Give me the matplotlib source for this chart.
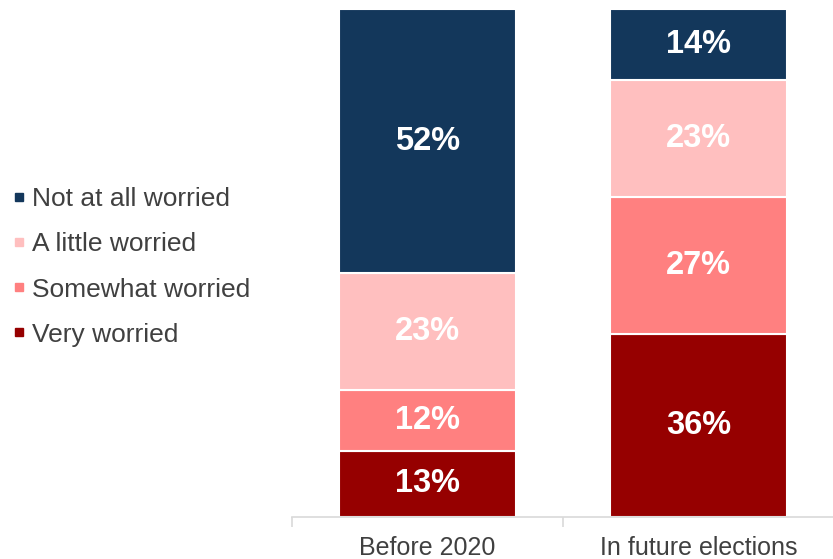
import matplotlib
matplotlib.use("Agg")
import matplotlib.pyplot as plt
from matplotlib.lines import Line2D

plt.rcParams['font.family'] = ['Liberation Sans', 'DejaVu Sans']

categories = ["Before 2020", "In future elections"]
series_names = ["Very worried", "Somewhat worried", "A little worried", "Not at all worried"]
very = [13, 36]
somewhat = [12, 27]
little = [23, 23]
not_at_all = [52, 14]
values = [very, somewhat, little, not_at_all]
colors = ["#960000", "#FF8080", "#FFBFBF", "#13375B"]

fig = plt.figure(figsize=(8.33, 5.59), dpi=100)
ax = fig.add_axes([292/833, 1-517/559, 542/833, (517-9)/559])

x = list(range(len(categories)))
bottoms = [0]*len(categories)
handles = []
for name, vals, col in zip(series_names, values, colors):
    bars = ax.bar(x, vals, bottom=bottoms, width=0.655, color=col,
                  edgecolor="white", linewidth=1.5, label=name)
    for xi, v, b in zip(x, vals, bottoms):
        ax.text(xi, b + v/2, f"{v}%", ha="center", va="center",
                color="white", fontsize=23.5, fontweight="bold")
    bottoms = [b + v for b, v in zip(bottoms, vals)]
    handles.append(Line2D([], [], marker="s", linestyle="none", color=col,
                          markersize=6))

ax.set_xlim(-0.5, 1.5)
ax.set_ylim(0, 100)
for s in ["top", "right", "left"]:
    ax.spines[s].set_visible(False)
ax.spines["bottom"].set_color("#D9D9D9")
ax.spines["bottom"].set_linewidth(1.2)
ax.set_yticks([])
ax.set_xticks(x)
ax.set_xticklabels(categories, fontsize=18, color="#404040")
ax.tick_params(axis="x", which="major", length=0, pad=14)
ax.set_xticks([-0.5, 0.5, 1.5], minor=True)
ax.tick_params(axis="x", which="minor", length=7, color="#D9D9D9", width=1.2)

fig.legend(handles[::-1], series_names[::-1], loc="center left",
           bbox_to_anchor=(0.016, 1-267/559), frameon=False, fontsize=19,
           handlelength=0.4, handletextpad=0.3, labelspacing=0.8,
           borderpad=0, borderaxespad=0, labelcolor="#404040")

fig.savefig("out.png", dpi=100)
